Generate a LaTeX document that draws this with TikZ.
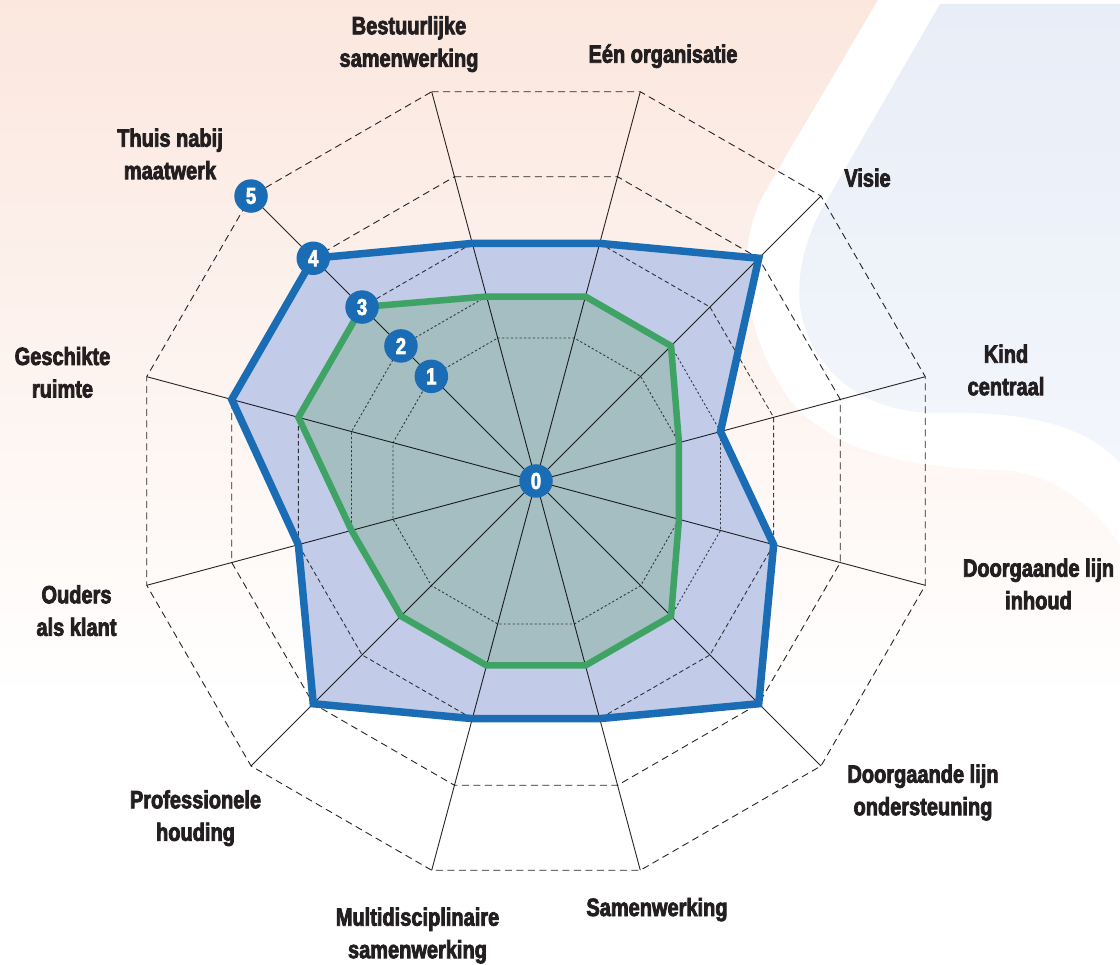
\documentclass[tikz,border=0pt]{standalone}
\usepackage{fontspec}
\newfontfamily\lblfont{Liberation Sans Bold}[FakeStretch=0.8,FakeBold=3]
\definecolor{peach}{HTML}{FBE7DE}
\definecolor{skyA}{HTML}{E8EDF7}
\definecolor{skyB}{HTML}{F3F6FB}
\definecolor{lineblue}{HTML}{1A6DB5}
\definecolor{linegreen}{HTML}{3EA364}
\definecolor{fillblue}{HTML}{C2CBE7}
\definecolor{fillgreen}{HTML}{A4BEC2}
\definecolor{ink}{HTML}{231F20}
\newcommand\twoline[2]{\begin{tabular}[t]{@{}c@{}}#1\\#2\end{tabular}}
\begin{document}
\begin{tikzpicture}[x=1pt,y=-1pt,
  lbl/.style={font=\lblfont\fontsize{25}{32.5}\selectfont, text=ink, inner sep=0pt, anchor=base},
  marker/.style={circle, fill=lineblue, inner sep=0pt, minimum size=33.5pt, text=white,
    font=\lblfont\fontsize{23}{23}\selectfont},
  spoke/.style={draw=black, line width=0.9pt, draw opacity=0.85},
  finegrid/.style={draw=black, line width=0.9pt, dash pattern=on 2.2pt off 2.2pt, draw opacity=0.7},
  midgrid/.style={draw=black, line width=0.9pt, dash pattern=on 4.5pt off 3pt, draw opacity=0.75},
  outgrid/.style={draw=black, line width=0.9pt, dash pattern=on 7pt off 4.5pt, draw opacity=0.85},
  bluearea/.style={fill=fillblue},
  greenarea/.style={fill=fillgreen},
  blueline/.style={draw=lineblue, line width=7.5pt},
  greenline/.style={draw=linegreen, line width=6.5pt},
]
\useasboundingbox (0,0) rectangle (1120,965);
% background
\fill[white] (0,0) rectangle (1120,965);
\shade[top color=peach, bottom color=white] (0,0) rectangle (1120,700);
\fill[white] (878,0) -- (765,192) .. controls (735,245) and (740,330) .. (790,400)
  .. controls (840,460) and (930,468) .. (1000,470)
  .. controls (1050,472) and (1095,505) .. (1120,545) -- (1120,0) -- cycle;
\shade[top color=skyA, bottom color=skyB] (940,4) -- (823,207)
  .. controls (800,247) and (790,300) .. (810,340)
  .. controls (835,390) and (880,412) .. (935,413)
  .. controls (1000,412) and (1075,415) .. (1120,463) -- (1120,4) -- cycle;

\begin{scope}[shift={(536,481)}]
  \coordinate (c) at (0,0);
  % data areas
  \fill[bluearea] (-105:246) -- (-75:246) -- (-45:315) -- (-15:191) -- (15:246) -- (45:315)
    -- (75:246) -- (105:246) -- (135:315) -- (165:246) -- (195:315) -- (225:315) -- cycle;
  \fill[greenarea] (-105:191) -- (-75:191) -- (-45:191) -- (-15:148) -- (15:148) -- (45:191)
    -- (75:191) -- (105:191) -- (135:191) -- (165:191) -- (195:246) -- (225:246) -- cycle;
  % grid
  \foreach \r/\sty in {148/finegrid,191/finegrid,246/midgrid,315/outgrid,403/outgrid}
    \draw[\sty] (-105:\r) \foreach \a in {-75,-45,...,225}{ -- (\a:\r)} -- cycle;
  \foreach \a [count=\i] in {-105,-75,...,225}
    \coordinate (ax\i) at (\a:403);
  \foreach \i in {1,...,12}
    \draw[spoke] (c) -- (ax\i);
  % data lines
  \draw[blueline] (-105:246) -- (-75:246) -- (-45:315) -- (-15:191) -- (15:246) -- (45:315)
    -- (75:246) -- (105:246) -- (135:315) -- (165:246) -- (195:315) -- (225:315) -- cycle;
  \draw[greenline] (-105:191) -- (-75:191) -- (-45:191) -- (-15:148) -- (15:148) -- (45:191)
    -- (75:191) -- (105:191) -- (135:191) -- (165:191) -- (195:246) -- (225:246) -- cycle;
  % scale markers
  \node[marker] (m0) at (c) {0};
  \foreach \n/\r in {1/148,2/191,3/246,4/315,5/403}
    \node[marker] (m\n) at (225:\r) {\n};
\end{scope}

% labels
\node[lbl] (l1) at (409,34.3) {\twoline{Bestuurlijke}{samenwerking}};
\node[lbl] (l2) at (663,62.7) {Eén organisatie};
\node[lbl] (l3) at (867.5,186.7) {Visie};
\node[lbl] (l4) at (1006,362.7) {\twoline{Kind}{centraal}};
\node[lbl] (l5) at (1038.5,576.7) {\twoline{Doorgaande lijn}{inhoud}};
\node[lbl] (l6) at (923,782.7) {\twoline{Doorgaande lijn}{ondersteuning}};
\node[lbl] (l7) at (657,916) {Samenwerking};
\node[lbl] (l8) at (417.5,925.7) {\twoline{Multidisciplinaire}{samenwerking}};
\node[lbl] (l9) at (195.5,808.3) {\twoline{Professionele}{houding}};
\node[lbl] (l10) at (76.5,603.3) {\twoline{Ouders}{als klant}};
\node[lbl] (l11) at (62.5,365) {\twoline{Geschikte}{ruimte}};
\node[lbl] (l12) at (170,146.7) {\twoline{Thuis nabij}{maatwerk}};
\end{tikzpicture}
\end{document}
